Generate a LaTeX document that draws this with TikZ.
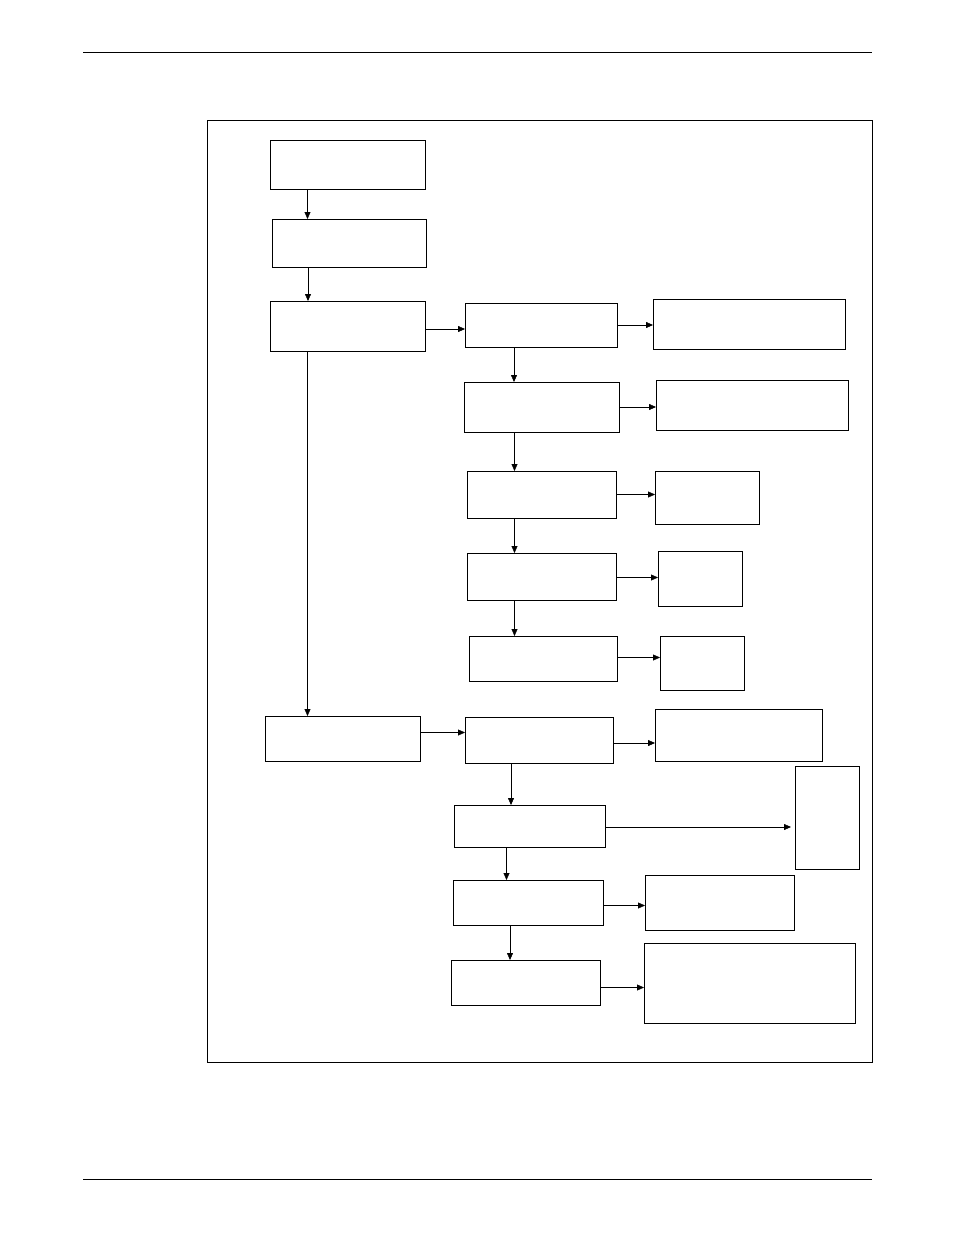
\documentclass[tikz,border=0pt]{standalone}
\usetikzlibrary{arrows.meta}
\begin{document}
\begin{tikzpicture}[x=1pt,y=-1pt,
  bx/.style={draw,thick,inner sep=0,outer sep=0,anchor=north west},
  ar/.style={draw,-{Triangle[length=7pt,width=6pt]}}]
\useasboundingbox (0,0) rectangle (954,1235);
\draw (83,52) coordinate (hl) -- (872,52) coordinate (hr);
\draw (83,1179) coordinate (fl) -- (872,1179) coordinate (fr);
\draw (207,120) rectangle (872,1062);
\newcommand\bx[5]{\node[bx,minimum width={#4-#2},minimum height={#5-#3}] (#1) at (#2,#3) {};}
\bx{A}{270}{140}{425}{189}
\bx{B}{272}{219}{426}{267}
\bx{C}{270}{301}{425}{351}
\bx{D1}{465}{303}{617}{347}
\bx{E1}{653}{299}{845}{349}
\bx{D2}{464}{382}{619}{432}
\bx{E2}{656}{380}{848}{430}
\bx{D3}{467}{471}{616}{518}
\bx{E3}{655}{471}{759}{524}
\bx{D4}{467}{553}{616}{600}
\bx{E4}{658}{551}{742}{606}
\bx{D5}{469}{636}{617}{681}
\bx{E5}{660}{636}{744}{690}
\bx{F}{265}{716}{420}{761}
\bx{G1}{465}{717}{613}{763}
\bx{H1}{655}{709}{822}{761}
\bx{G2}{454}{805}{605}{847}
\bx{H2}{795}{766}{859}{869}
\bx{G3}{453}{880}{603}{925}
\bx{H3}{645}{875}{794}{930}
\bx{G4}{451}{960}{600}{1005}
\bx{H4}{644}{943}{855}{1023}
\draw[ar] ([xshift=-40]A.south) -- ([xshift=-40]A.south |- B.north);
\draw[ar] ([xshift=-41]B.south) -- ([xshift=-41]B.south |- C.north);
\draw[ar] ([xshift=-40]C.south) -- ([xshift=-40]C.south |- F.north);
\draw[ar] ([yshift=-3]C.east) -- ([yshift=-3]C.east -| D1.west);
\draw[ar] (D1.east) -- (D1.east -| E1.west);
\draw[ar] ([xshift=-27]D1.south) -- ([xshift=-27]D1.south |- D2.north);
\draw[ar] (D2.east) -- (D2.east -| E2.west);
\draw[ar] ([xshift=-27]D2.south) -- ([xshift=-27]D2.south |- D3.north);
\draw[ar] (D3.east) -- (D3.east -| E3.west);
\draw[ar] ([xshift=-27]D3.south) -- ([xshift=-27]D3.south |- D4.north);
\draw[ar] ([yshift=-1]D4.east) -- ([yshift=-1]D4.east -| E4.west);
\draw[ar] ([xshift=-27]D4.south) -- ([xshift=-27]D4.south |- D5.north);
\draw[ar] ([yshift=1]D5.east) -- ([yshift=1]D5.east -| E5.west);
\draw[ar] ([yshift=6]F.east) -- ([yshift=6]F.east -| G1.west);
\draw[ar] ([yshift=-3]G1.east) -- ([yshift=-3]G1.east -| H1.west);
\draw[ar] ([xshift=-28]G1.south) -- ([xshift=-28]G1.south |- G2.north);
\draw[ar] ([yshift=-1]G2.east) -- ([xshift=-4,yshift=-1]G2.east -| H2.west);
\draw[ar] ([xshift=-23]G2.south) -- ([xshift=-23]G2.south |- G3.north);
\draw[ar] ([yshift=-3]G3.east) -- ([yshift=-3]G3.east -| H3.west);
\draw[ar] ([xshift=-18]G3.south) -- ([xshift=-18]G3.south |- G4.north);
\draw[ar] ([yshift=-5]G4.east) -- ([yshift=-5]G4.east -| H4.west);
\end{tikzpicture}
\end{document}
